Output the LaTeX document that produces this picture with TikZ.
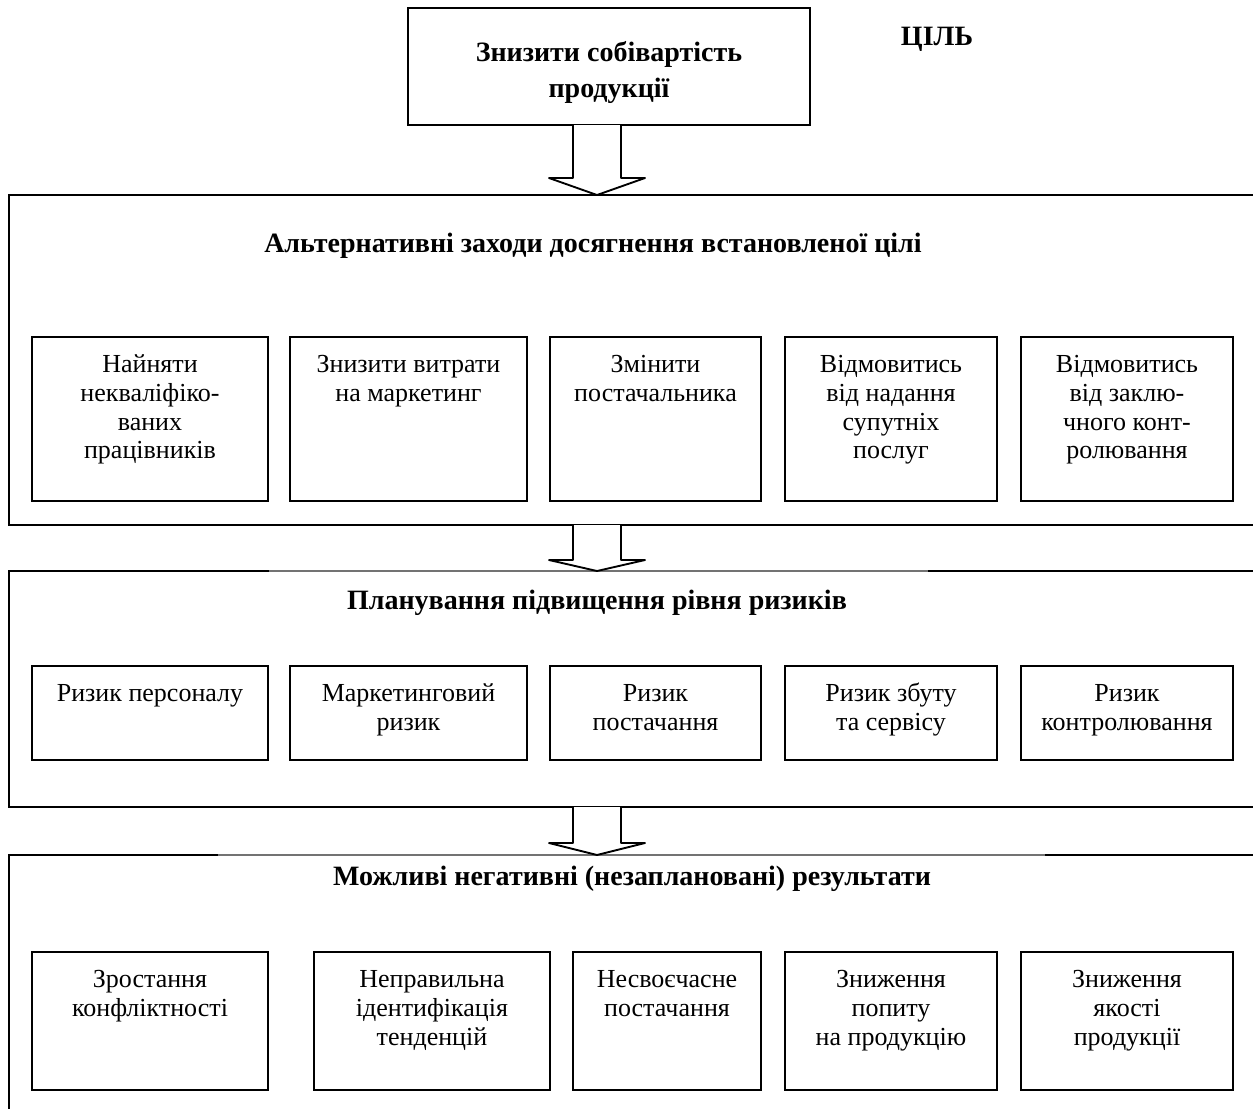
\documentclass[tikz,border=0pt]{standalone}
\usepackage{fontspec}
\setmainfont{Liberation Serif}
\usetikzlibrary{calc}
\newcommand\txtfont{\fontsize{19.5pt}{21.4pt}\selectfont}
\newcommand\ttlfont{\fontsize{21pt}{27pt}\selectfont\bfseries}
\newcommand\mybox[6]{%
  \node[box, anchor=north west, minimum width={(#4-#2)*0.75pt}, minimum height={(#5-#3)*0.75pt}] (#1) at (#2,#3) {};
  \node[txt, anchor=north] (#1t) at ($(#1.north)+(0,16)$) {\strut #6};}
\newcommand\blockarr[3]{% start, wing centre, tip
  \draw[arrowshape] ($(#1)+(-24,0)$) -- ($(#2)+(-24,0)$) -- ($(#2)+(-48,0)$) -- (#3) -- ($(#2)+(48,0)$) -- ($(#2)+(24,0)$) -- ($(#1)+(24,0)$);}
\begin{document}
\begin{tikzpicture}[x=0.75pt,y=-0.75pt,
  every node/.style={inner sep=0pt, outer sep=0pt},
  box/.style={draw, line width=1.4pt},
  txt/.style={align=center, font=\txtfont},
  ttl/.style={font=\ttlfont, align=center},
  panel/.style={draw, line width=1.4pt},
  faint/.style={draw=black!55, line width=0.8pt},
  arrowshape/.style={draw, fill=white, line width=1.4pt, line join=round}]
\useasboundingbox (0,0) rectangle (1253,1108);
\clip (0,0) rectangle (1253,1108);

% goal
\node[box, anchor=north west, minimum width={402*0.75pt}, minimum height={117*0.75pt}] (goal) at (408,8) {};
\node[ttl, anchor=north] (goalt) at ($(goal.north)+(0,28)$) {\strut Знизити собівартість\\продукції};
\node[ttl, anchor=base] (mark) at (937,45) {ЦІЛЬ};

% panel 1
\coordinate (p1nw) at (9,195);
\coordinate (p1se) at (1262,525);
\draw[panel] (p1nw) rectangle (p1se);
\node[ttl, anchor=base] (p1title) at (593,252) {Альтернативні заходи досягнення встановленої цілі};
\mybox{a1}{32}{337}{268}{501}{Найняти\\некваліфіко-\\ваних\\працівників}
\mybox{a2}{290}{337}{527}{501}{Знизити витрати\\на маркетинг}
\mybox{a3}{550}{337}{761}{501}{Змінити\\постачальника}
\mybox{a4}{785}{337}{997}{501}{Відмовитись\\від надання\\супутніх\\послуг}
\mybox{a5}{1021}{337}{1233}{501}{Відмовитись\\від заклю-\\чного конт-\\ролювання}

% panel 2
\coordinate (p2nw) at (9,571);
\coordinate (p2se) at (1262,807);
\draw[panel] (269,571) -- (p2nw) |- (p2se) -- (p2se |- p2nw) -- (928,571);
\draw[faint] (269,571) -- (928,571);
\node[ttl, anchor=base] (p2title) at (597,609) {Планування підвищення рівня ризиків};
\mybox{b1}{32}{666}{268}{760}{Ризик персоналу}
\mybox{b2}{290}{666}{527}{760}{Маркетинговий\\ризик}
\mybox{b3}{550}{666}{761}{760}{Ризик\\постачання}
\mybox{b4}{785}{666}{997}{760}{Ризик збуту\\та сервісу}
\mybox{b5}{1021}{666}{1233}{760}{Ризик\\контролювання}

% panel 3
\coordinate (p3nw) at (9,855);
\coordinate (p3ne) at (1262,855);
\draw[panel] (218,855) -- (p3nw) -- (9,1120);
\draw[panel] (1045,855) -- (p3ne) -- (1262,1120);
\draw[faint] (218,855) -- (1045,855);
\node[ttl, anchor=base] (p3title) at (632,885) {Можливі негативні (незаплановані) результати};
\mybox{c1}{32}{952}{268}{1090}{Зростання\\конфліктності}
\mybox{c2}{314}{952}{550}{1090}{Неправильна\\ідентифікація\\тенденцій}
\mybox{c3}{573}{952}{761}{1090}{Несвоєчасне\\постачання}
\mybox{c4}{785}{952}{997}{1090}{Зниження\\попиту\\на продукцію}
\mybox{c5}{1021}{952}{1233}{1090}{Зниження\\якості\\продукції}

% arrows
\coordinate (tip1) at (597,195);
\coordinate (tip2) at (597,571);
\coordinate (tip3) at (597,855);
\coordinate (w1) at (597,178);
\coordinate (w2) at (597,560);
\coordinate (w3) at (597,843);
\coordinate (s1) at (goal.south -| tip1);
\coordinate (s2) at (p1se -| tip2);
\coordinate (s3) at (p2se -| tip3);
\blockarr{s1}{w1}{tip1}
\blockarr{s2}{w2}{tip2}
\blockarr{s3}{w3}{tip3}
\end{tikzpicture}
\end{document}
